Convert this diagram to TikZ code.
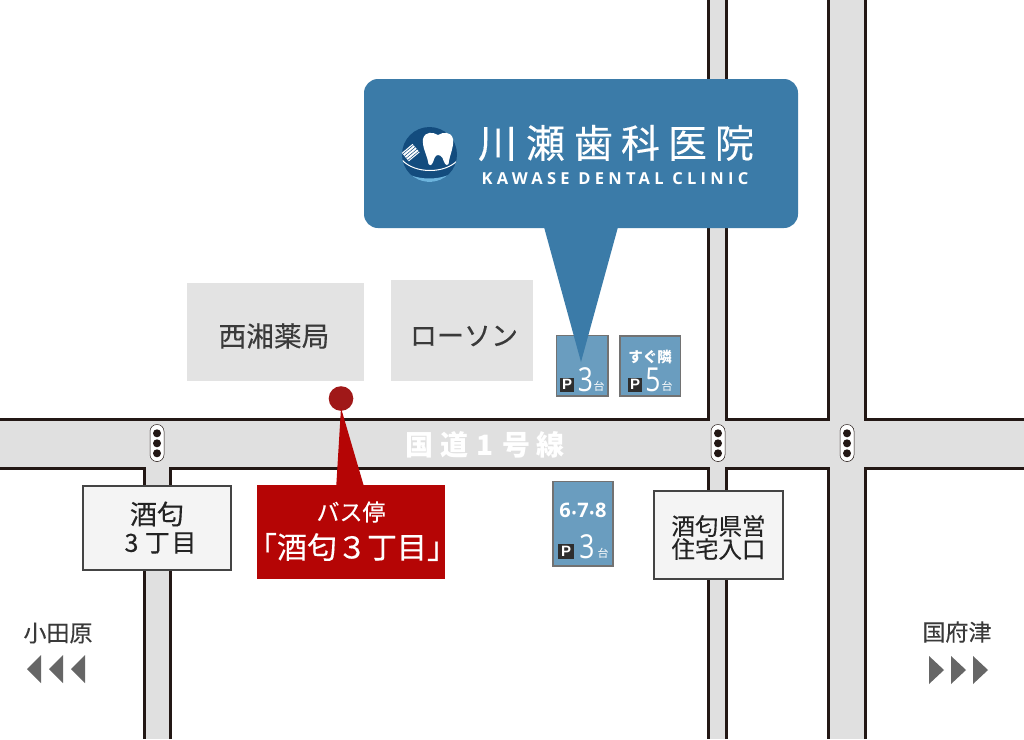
\documentclass[tikz,border=0pt]{standalone}
\usepackage{fontspec}
\setmainfont{Noto Sans CJK JP}
\newfontfamily\jpheavy[FakeBold=0.25]{Noto Sans CJK JP}
\newfontfamily\latinfont[LetterSpace=26]{Open Sans}
\newfontfamily\numfont[FakeStretch=0.8]{Open Sans}
\newfontfamily\plainnum{Open Sans}
\newfontfamily\pfont{Liberation Sans}
\definecolor{roadfill}{HTML}{E0E0E0}
\definecolor{roadline}{HTML}{231815}
\definecolor{bldg}{HTML}{E3E3E3}
\definecolor{callout}{HTML}{3B7BA8}
\definecolor{lotblue}{HTML}{6A9DBF}
\definecolor{lotline}{HTML}{727272}
\definecolor{busred}{HTML}{B50505}
\definecolor{dotred}{HTML}{A01818}
\definecolor{boxfill}{HTML}{F4F4F4}
\definecolor{boxline}{HTML}{444444}
\definecolor{txt}{HTML}{3A3A3A}
\definecolor{grayarrow}{HTML}{666666}
\definecolor{navy}{HTML}{134C7E}
\definecolor{lightband}{HTML}{6CB3DC}
\newcommand{\fs}[1]{\fontsize{#1}{#1}\selectfont}
\newcommand{\spacedchars}[2]{\makebox[#1]{#2}}
\tikzset{
  x=1pt,y=-1pt,
  bldgbox/.style={fill=bldg,draw=none},
  lotbox/.style={fill=lotblue,draw=lotline,line width=1.4pt},
  labelbox/.style={fill=boxfill,draw=boxline,line width=2pt},
  roadedge/.style={draw=roadline,line width=3pt,line cap=butt,line join=miter},
  pin/.style={inner sep=0pt,outer sep=0pt},
  lamp/.style={draw=roadline,line width=.5pt,fill=white,rounded corners=6.8pt},
  parkp/.style={fill=txt!80!black,text=white,inner sep=0pt,minimum size=14pt,font=\fs{15}\bfseries\pfont},
  westarrow/.style={fill=grayarrow,draw=none},
}
\newcommand{\trafficlight}[3]{%
  \draw[lamp] (#1-7,443-18.5) rectangle (#1+7,443+18.5);
  \fill[roadline] (#1,433.3) circle (4) (#1,443.3) circle (4) (#1,453.3) circle (4);
  \coordinate (#3) at (#1,443);
}
\begin{document}
\begin{tikzpicture}
\useasboundingbox (0,0) rectangle (1024,739);
\fill[white] (0,0) rectangle (1024,739);
% roads fill
\fill[roadfill] (0,419) rectangle (1024,468);
\fill[roadfill] (144,468) rectangle (170,739);
\fill[roadfill] (708,0) rectangle (726,739);
\fill[roadfill] (828,0) rectangle (865,739);
% road edges
\draw[roadedge] (0,419) -- (708,419) -- (708,0);
\draw[roadedge] (726,0) -- (726,419) -- (828,419) -- (828,0);
\draw[roadedge] (865,0) -- (865,419) -- (1024,419);
\draw[roadedge] (0,468) -- (144,468) -- (144,739);
\draw[roadedge] (170,739) -- (170,468) -- (708,468) -- (708,739);
\draw[roadedge] (726,739) -- (726,468) -- (828,468) -- (828,739);
\draw[roadedge] (865,739) -- (865,468) -- (1024,468);
% road name
\node[pin,text=white,font=\fs{28}\bfseries] (roadname) at (484.5,445) {\spacedchars{36pt}{国}\spacedchars{34pt}{道}\spacedchars{27pt}{1}\spacedchars{36pt}{号}\spacedchars{33pt}{線}};
% buildings
\draw[bldgbox] (187,283) rectangle (364,381);
\node[pin,text=txt,font=\fs{27.7}\jpheavy] (pharmacy) at (274,336) {西湘薬局};
\draw[bldgbox] (391,280) rectangle (533,381);
\node[pin,text=txt,font=\fs{27}\jpheavy] (lawson) at (464,336) {ローソン};
% lights
\trafficlight{157}{0}{lampa}
\trafficlight{718}{0}{lampb}
\trafficlight{847}{0}{lampc}
% parking 1
\draw[lotbox] (556.5,335.5) rectangle (608,396);
\node[parkp] (p1) at (567,384.5) {P};
\node[pin,text=white,font=\fs{33}\numfont] (n1) at (585.5,380) {3};
\node[pin,text=white,font=\fs{11}] (d1) at (599,386) {台};
% parking 2
\draw[lotbox] (620,336) rectangle (680.5,396);
\node[pin,text=white,font=\fs{14.5}\bfseries] (t2) at (650,357) {すぐ隣};
\node[parkp] (p2) at (635,384.5) {P};
\node[pin,text=white,font=\fs{33}\numfont] (n2) at (653,380) {5};
\node[pin,text=white,font=\fs{11}] (d2) at (667,386) {台};
% parking 3
\draw[lotbox] (553,481.5) rectangle (613,566);
\node[pin,text=white,font=\fs{20}\bfseries\plainnum] (t3) at (583,510) {6\kern1pt\fs{12}•\fs{20}\kern1pt 7\kern1pt\fs{12}•\fs{20}\kern1pt 8};
\node[parkp,minimum size=15.5pt] (p3) at (566,551.5) {P};
\node[pin,text=white,font=\fs{33}\numfont] (n3) at (587,547) {3};
\node[pin,text=white,font=\fs{11}] (d3) at (603,553) {台};
% callout
\fill[callout] (544,227) -- (618,227) -- (581,362) -- cycle;
\fill[callout,rounded corners=14pt] (364,79) rectangle (798,228);
% logo
\fill[navy] (429.5,154.5) circle (27.5);
\begin{scope}
\clip (429.5,154.5) circle (27.5);
\fill[lightband] (400,168) .. controls (412,182) and (446,182) .. (459,168) -- (459,175) .. controls (446,186) and (412,186) .. (400,175) -- cycle;
\draw[white,line width=1pt] (402,160) .. controls (415,174) and (445,174) .. (458,160);
\end{scope}
\fill[white] (423,139) .. controls (425,131) and (433,132) .. (438,135) .. controls (443,132) and (451,131) .. (453,139) .. controls (454,148) and (450,153) .. (448.5,164) .. controls (446,167.5) and (444,162) .. (442.5,158) .. controls (440,154) and (436,154) .. (434.5,158) .. controls (433,163) and (431,167.5) .. (428.5,164) .. controls (427,154) and (422,148) .. (423,139) -- cycle;
\fill[white,rotate around={40:(411,153)}] (404,147) rectangle (418,158);
\foreach \t in {0,1,2,3}{\draw[navy,line width=.5pt,rotate around={40:(411,153)}] (404,{148.5+\t*2.7}) -- (418,{148.5+\t*2.7});}
\node[pin,text=white,font=\fs{39}\jpheavy] (jpname) at (615.5,143) {\spacedchars{48pt}{川}\spacedchars{48pt}{瀬}\spacedchars{48pt}{歯}\spacedchars{46pt}{科}\spacedchars{48pt}{医}\spacedchars{46pt}{院}};
\node[pin,text=white,font=\fs{16.5}\bfseries\latinfont] (enname) at (615,179) {KAWASE DENTAL CLINIC};
% label boxes
\draw[labelbox] (83,486) rectangle (231,570);
\node[pin,text=txt!60!black,font=\fs{27}\jpheavy,align=center] (sakawa) at (157,514) {酒匂};
\node[pin,text=txt!60!black,font=\fs{25}\jpheavy] (sakawa3) at (158,543) {\spacedchars{25pt}{3}\spacedchars{27pt}{丁}\spacedchars{26pt}{目}};
\draw[labelbox] (653.5,490.5) rectangle (783,579);
\node[pin,text=txt!60!black,font=\fs{23.5}\jpheavy] (jutaku1) at (718.5,526) {酒匂県営};
\node[pin,text=txt!60!black,font=\fs{23.5}\jpheavy] (jutaku2) at (718.5,549) {住宅入口};
% bus stop
\fill[dotred] (341,398.5) circle (12.3);
\fill[busred] (341,408) -- (336,490) -- (365,490) -- cycle;
\fill[busred] (257,485) rectangle (445,579);
\node[pin,text=white,font=\fs{23}\jpheavy] (bus1) at (351,512) {バス停};
\node[pin,text=white,font=\fs{30}\jpheavy] (bus2) at (352,547) {\makebox[15pt][r]{「}酒匂３丁目\makebox[15pt][l]{」}};
% directions
\node[pin,text=txt,font=\fs{23}\jpheavy] (west) at (58,633) {小田原};
\node[pin,text=txt,font=\fs{23}\jpheavy] (east) at (957,632) {国府津};
\foreach \x in {27,49,71}{\fill[westarrow] (\x,669) -- (\x+14,655) -- (\x+14,683) -- cycle;}
\foreach \x in {929,951,973}{\fill[westarrow] (\x,656) -- (\x+15,670) -- (\x,684) -- cycle;}
\end{tikzpicture}
\end{document}
